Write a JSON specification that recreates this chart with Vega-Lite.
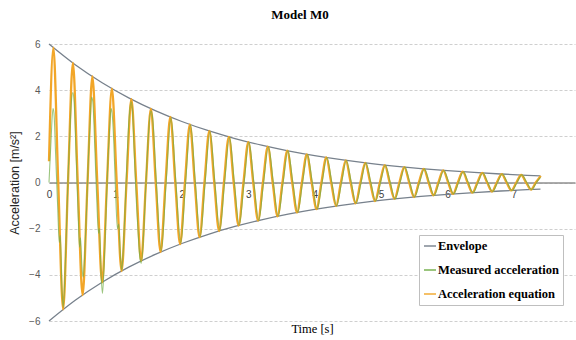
{
  "$schema": "https://vega.github.io/schema/vega-lite/v6.json",
  "width": 526,
  "height": 277,
  "autosize": {"type": "none"},
  "padding": {"left": 49, "top": 44, "right": 1, "bottom": 19},
  "background": "white",
  "title": {"text": "Model M0", "font": "Liberation Serif", "fontSize": 13, "fontWeight": "bold", "color": "#000000", "offset": 17, "frame": "group", "dx": -12},
  "config": {"view": {"stroke": null}},
  "datasets": {
    "env": [
      {"t": 0, "a": 6.0, "side": "u"}, {"t": 0.4, "a": 5.092, "side": "u"}, {"t": 0.8, "a": 4.322, "side": "u"}, {"t": 1.2, "a": 3.668, "side": "u"}, {"t": 1.6, "a": 3.114, "side": "u"}, {"t": 2.0, "a": 2.643, "side": "u"}, {"t": 2.4, "a": 2.243, "side": "u"}, {"t": 2.8, "a": 1.904, "side": "u"}, {"t": 3.2, "a": 1.616, "side": "u"}, {"t": 3.6, "a": 1.371, "side": "u"}, {"t": 4.0, "a": 1.164, "side": "u"}, {"t": 4.4, "a": 0.988, "side": "u"}, {"t": 4.8, "a": 0.838, "side": "u"}, {"t": 5.2, "a": 0.712, "side": "u"}, {"t": 5.6, "a": 0.604, "side": "u"}, {"t": 6.0, "a": 0.513, "side": "u"}, {"t": 6.4, "a": 0.435, "side": "u"}, {"t": 6.8, "a": 0.369, "side": "u"}, {"t": 7.2, "a": 0.313, "side": "u"}, {"t": 7.4, "a": 0.289, "side": "u"},
      {"t": 0, "a": -6.0, "side": "l"}, {"t": 0.4, "a": -5.092, "side": "l"}, {"t": 0.8, "a": -4.322, "side": "l"}, {"t": 1.2, "a": -3.668, "side": "l"}, {"t": 1.6, "a": -3.114, "side": "l"}, {"t": 2.0, "a": -2.643, "side": "l"}, {"t": 2.4, "a": -2.243, "side": "l"}, {"t": 2.8, "a": -1.904, "side": "l"}, {"t": 3.2, "a": -1.616, "side": "l"}, {"t": 3.6, "a": -1.371, "side": "l"}, {"t": 4.0, "a": -1.164, "side": "l"}, {"t": 4.4, "a": -0.988, "side": "l"}, {"t": 4.8, "a": -0.838, "side": "l"}, {"t": 5.2, "a": -0.712, "side": "l"}, {"t": 5.6, "a": -0.604, "side": "l"}, {"t": 6.0, "a": -0.513, "side": "l"}, {"t": 6.4, "a": -0.435, "side": "l"}, {"t": 6.8, "a": -0.369, "side": "l"}, {"t": 7.2, "a": -0.313, "side": "l"}, {"t": 7.4, "a": -0.289, "side": "l"}
    ],
    "meas": [
      {"t": 0, "a": 0}, {"t": 0.03, "a": 1.8}, {"t": 0.06, "a": 3.2}, {"t": 0.075, "a": 3.0}, {"t": 0.1, "a": 1.2}, {"t": 0.13, "a": -1.0}, {"t": 0.155, "a": -2.6}, {"t": 0.17, "a": -2.3}, {"t": 0.195, "a": -4.6}, {"t": 0.215, "a": -5.4}, {"t": 0.24, "a": -4.0}, {"t": 0.265, "a": -1.8}, {"t": 0.29, "a": 0.5}, {"t": 0.315, "a": 2.2}, {"t": 0.34, "a": 3.6}, {"t": 0.36, "a": 3.9}, {"t": 0.38, "a": 3.4}, {"t": 0.41, "a": 1.0}, {"t": 0.44, "a": -1.5}, {"t": 0.46, "a": -2.8}, {"t": 0.475, "a": -2.4}, {"t": 0.495, "a": -3.6}, {"t": 0.515, "a": -4.1}, {"t": 0.54, "a": -3.0}, {"t": 0.57, "a": -0.8}, {"t": 0.595, "a": 1.2}, {"t": 0.62, "a": 2.6}, {"t": 0.64, "a": 3.7}, {"t": 0.66, "a": 3.5}, {"t": 0.69, "a": 1.5}, {"t": 0.72, "a": -0.8}, {"t": 0.745, "a": -2.2}, {"t": 0.76, "a": -2.0}, {"t": 0.785, "a": -4.0}, {"t": 0.805, "a": -4.8}, {"t": 0.83, "a": -3.6}, {"t": 0.86, "a": -1.2}, {"t": 0.885, "a": 0.8}, {"t": 0.91, "a": 2.2}, {"t": 0.935, "a": 3.2}, {"t": 0.95, "a": 3.0}, {"t": 0.975, "a": 1.8}, {"t": 1.0, "a": -0.2}, {"t": 1.03, "a": -2.0}, {"t": 1.05, "a": -1.8}, {"t": 1.075, "a": -3.2}, {"t": 1.095, "a": -3.8}, {"t": 1.12, "a": -2.8}, {"t": 1.15, "a": -0.8}, {"t": 1.175, "a": 1.0}, {"t": 1.2, "a": 2.5}, {"t": 1.235, "a": 3.5}, {"t": 1.255, "a": 3.2}, {"t": 1.285, "a": 1.2}, {"t": 1.315, "a": -0.8}, {"t": 1.345, "a": -2.3}, {"t": 1.37, "a": -3.3}, {"t": 1.39, "a": -3.5}, {"t": 1.42, "a": -2.5}, {"t": 1.45, "a": -0.6}, {"t": 1.48, "a": 1.2}, {"t": 1.51, "a": 2.6}, {"t": 1.535, "a": 3.1}, {"t": 1.56, "a": 2.8}, {"t": 1.617, "a": 0},
      {"t": 1.690, "a": -2.95}, {"t": 1.764, "a": 0}, {"t": 1.837, "a": 2.80}, {"t": 1.911, "a": 0}, {"t": 1.984, "a": -2.62}, {"t": 2.057, "a": 0}, {"t": 2.131, "a": 2.49}, {"t": 2.204, "a": 0}, {"t": 2.277, "a": -2.34}, {"t": 2.351, "a": 0}, {"t": 2.424, "a": 2.21}, {"t": 2.498, "a": 0}, {"t": 2.571, "a": -2.07}, {"t": 2.644, "a": 0}, {"t": 2.718, "a": 1.96}, {"t": 2.791, "a": 0}, {"t": 2.864, "a": -1.84}, {"t": 2.938, "a": 0}, {"t": 3.011, "a": 1.74}, {"t": 3.085, "a": 0}, {"t": 3.158, "a": -1.64}, {"t": 3.231, "a": 0}, {"t": 3.305, "a": 1.55}, {"t": 3.378, "a": 0}, {"t": 3.451, "a": -1.45}, {"t": 3.525, "a": 0}, {"t": 3.598, "a": 1.37}, {"t": 3.672, "a": 0}, {"t": 3.745, "a": -1.29}, {"t": 3.818, "a": 0}, {"t": 3.892, "a": 1.21}, {"t": 3.965, "a": 0}, {"t": 4.038, "a": -1.14}, {"t": 4.112, "a": 0}, {"t": 4.185, "a": 1.08}, {"t": 4.259, "a": 0}, {"t": 4.332, "a": -1.01}, {"t": 4.405, "a": 0}, {"t": 4.479, "a": 0.95}, {"t": 4.552, "a": 0}, {"t": 4.625, "a": -0.90}, {"t": 4.699, "a": 0}, {"t": 4.772, "a": 0.85}, {"t": 4.846, "a": 0}, {"t": 4.919, "a": -0.80}, {"t": 4.992, "a": 0}, {"t": 5.066, "a": 0.75}, {"t": 5.139, "a": 0}, {"t": 5.212, "a": -0.71}, {"t": 5.286, "a": 0}, {"t": 5.359, "a": 0.67}, {"t": 5.433, "a": 0}, {"t": 5.506, "a": -0.63}, {"t": 5.579, "a": 0}, {"t": 5.653, "a": 0.59}, {"t": 5.726, "a": 0}, {"t": 5.799, "a": -0.56}, {"t": 5.873, "a": 0}, {"t": 5.946, "a": 0.52}, {"t": 6.020, "a": 0}, {"t": 6.093, "a": -0.49}, {"t": 6.166, "a": 0}, {"t": 6.240, "a": 0.46}, {"t": 6.313, "a": 0}, {"t": 6.386, "a": -0.44}, {"t": 6.460, "a": 0}, {"t": 6.533, "a": 0.41}, {"t": 6.607, "a": 0}, {"t": 6.680, "a": -0.39}, {"t": 6.753, "a": 0}, {"t": 6.827, "a": 0.37}, {"t": 6.900, "a": 0}, {"t": 6.973, "a": -0.35}, {"t": 7.047, "a": 0}, {"t": 7.120, "a": 0.33}, {"t": 7.194, "a": 0}, {"t": 7.267, "a": -0.31}, {"t": 7.340, "a": 0}, {"t": 7.400, "a": 0.22}
    ],
    "eq": [
      {"t": 0, "a": 0.92}, {"t": 0.066, "a": 5.840}, {"t": 0.139, "a": 0}, {"t": 0.213, "a": -5.499}, {"t": 0.286, "a": 0}, {"t": 0.360, "a": 5.178}, {"t": 0.433, "a": 0}, {"t": 0.506, "a": -4.875}, {"t": 0.580, "a": 0}, {"t": 0.653, "a": 4.591}, {"t": 0.727, "a": 0}, {"t": 0.800, "a": -4.323}, {"t": 0.873, "a": 0}, {"t": 0.947, "a": 4.070}, {"t": 1.020, "a": 0}, {"t": 1.093, "a": -3.833}, {"t": 1.167, "a": 0}, {"t": 1.240, "a": 3.609}, {"t": 1.314, "a": 0}, {"t": 1.387, "a": -3.398}, {"t": 1.460, "a": 0}, {"t": 1.534, "a": 3.200}, {"t": 1.607, "a": 0}, {"t": 1.680, "a": -3.013}, {"t": 1.754, "a": 0}, {"t": 1.827, "a": 2.837}, {"t": 1.901, "a": 0}, {"t": 1.974, "a": -2.671}, {"t": 2.047, "a": 0}, {"t": 2.121, "a": 2.515}, {"t": 2.194, "a": 0}, {"t": 2.267, "a": -2.368}, {"t": 2.341, "a": 0}, {"t": 2.414, "a": 2.230}, {"t": 2.488, "a": 0}, {"t": 2.561, "a": -2.100}, {"t": 2.634, "a": 0}, {"t": 2.708, "a": 1.977}, {"t": 2.781, "a": 0}, {"t": 2.854, "a": -1.862}, {"t": 2.928, "a": 0}, {"t": 3.001, "a": 1.753}, {"t": 3.075, "a": 0}, {"t": 3.148, "a": -1.651}, {"t": 3.221, "a": 0}, {"t": 3.295, "a": 1.554}, {"t": 3.368, "a": 0}, {"t": 3.441, "a": -1.464}, {"t": 3.515, "a": 0}, {"t": 3.588, "a": 1.378}, {"t": 3.662, "a": 0}, {"t": 3.735, "a": -1.298}, {"t": 3.808, "a": 0}, {"t": 3.882, "a": 1.222}, {"t": 3.955, "a": 0}, {"t": 4.028, "a": -1.151}, {"t": 4.102, "a": 0}, {"t": 4.175, "a": 1.083}, {"t": 4.249, "a": 0}, {"t": 4.322, "a": -1.020}, {"t": 4.395, "a": 0}, {"t": 4.469, "a": 0.961}, {"t": 4.542, "a": 0}, {"t": 4.615, "a": -0.905}, {"t": 4.689, "a": 0}, {"t": 4.762, "a": 0.852}, {"t": 4.836, "a": 0}, {"t": 4.909, "a": -0.802}, {"t": 4.982, "a": 0}, {"t": 5.056, "a": 0.755}, {"t": 5.129, "a": 0}, {"t": 5.202, "a": -0.711}, {"t": 5.276, "a": 0}, {"t": 5.349, "a": 0.670}, {"t": 5.423, "a": 0}, {"t": 5.496, "a": -0.630}, {"t": 5.569, "a": 0}, {"t": 5.643, "a": 0.594}, {"t": 5.716, "a": 0}, {"t": 5.789, "a": -0.559}, {"t": 5.863, "a": 0}, {"t": 5.936, "a": 0.526}, {"t": 6.010, "a": 0}, {"t": 6.083, "a": -0.496}, {"t": 6.156, "a": 0}, {"t": 6.230, "a": 0.467}, {"t": 6.303, "a": 0}, {"t": 6.376, "a": -0.439}, {"t": 6.450, "a": 0}, {"t": 6.523, "a": 0.414}, {"t": 6.597, "a": 0}, {"t": 6.670, "a": -0.390}, {"t": 6.743, "a": 0}, {"t": 6.817, "a": 0.367}, {"t": 6.890, "a": 0}, {"t": 6.963, "a": -0.345}, {"t": 7.037, "a": 0}, {"t": 7.110, "a": 0.325}, {"t": 7.184, "a": 0}, {"t": 7.257, "a": -0.306}, {"t": 7.330, "a": 0}, {"t": 7.404, "a": 0.288}
    ]
  },
  "layer": [
    {
      "data": {"name": "env"},
      "mark": {"type": "line", "interpolate": "monotone", "strokeWidth": 1.3},
      "encoding": {
        "x": {"field": "t", "type": "quantitative", "scale": {"domain": [0, 7.92], "nice": false, "zero": false},
              "axis": {"title": "Time [s]", "orient": "bottom", "labels": false, "ticks": false, "domain": false, "grid": false, "titleFont": "Liberation Serif", "titleFontSize": 12.5, "titleFontWeight": "normal", "titleColor": "#000000", "titlePadding": 1}},
        "y": {"field": "a", "type": "quantitative", "scale": {"domain": [-6, 6], "nice": false},
              "axis": {"title": "Acceleration [m/s²]", "values": [-6, -4, -2, 0, 2, 4, 6], "grid": true, "gridColor": "#cfcfcf", "gridDash": [3, 2], "gridWidth": 1, "domain": false, "ticks": false, "labelFlush": false, "labelFont": "Liberation Sans", "labelFontSize": 10, "labelColor": "#595959", "labelPadding": 9, "titleFont": "Liberation Sans", "titleFontSize": 12.5, "titleFontWeight": "normal", "titleColor": "#262626", "titlePadding": 7}},
        "detail": {"field": "side"},
        "color": {"datum": "Envelope", "type": "nominal",
                  "scale": {"domain": ["Envelope", "Measured acceleration", "Acceleration equation"], "range": ["#77818c", "#70AD47", "#F2A628"]},
                  "legend": {"title": null, "orient": "none", "legendX": 370, "legendY": 191, "direction": "vertical", "fillColor": "white", "strokeColor": "#bfbfbf", "padding": 4, "labelFont": "Liberation Serif", "labelFontSize": 12.5, "labelFontWeight": "bold", "labelColor": "#000000", "symbolType": "stroke", "symbolSize": 144, "symbolStrokeWidth": 2, "symbolOpacity": 1, "rowPadding": 10, "labelOffset": 1}}
      }
    },
    {
      "data": {"name": "eq"},
      "mark": {"type": "line", "interpolate": "monotone", "strokeWidth": 2.3},
      "encoding": {
        "x": {"field": "t", "type": "quantitative",
              "axis": {"title": null, "orient": "bottom", "offset": -138.5, "values": [0, 1, 2, 3, 4, 5, 6, 7], "grid": false, "ticks": false, "domainColor": "#8f8f8f", "domainWidth": 1.3, "labelFlush": false, "labelFont": "Liberation Sans", "labelFontSize": 10, "labelColor": "#404040", "labelPadding": 7}},
        "y": {"field": "a", "type": "quantitative"},
        "color": {"datum": "Acceleration equation", "type": "nominal"}
      }
    },
    {
      "data": {"name": "meas"},
      "mark": {"type": "line", "interpolate": "monotone", "strokeWidth": 1.1, "opacity": 0.7},
      "encoding": {
        "x": {"field": "t", "type": "quantitative", "axis": null},
        "y": {"field": "a", "type": "quantitative"},
        "color": {"datum": "Measured acceleration", "type": "nominal"}
      }
    }
  ],
  "resolve": {"axis": {"x": "independent"}}
}
